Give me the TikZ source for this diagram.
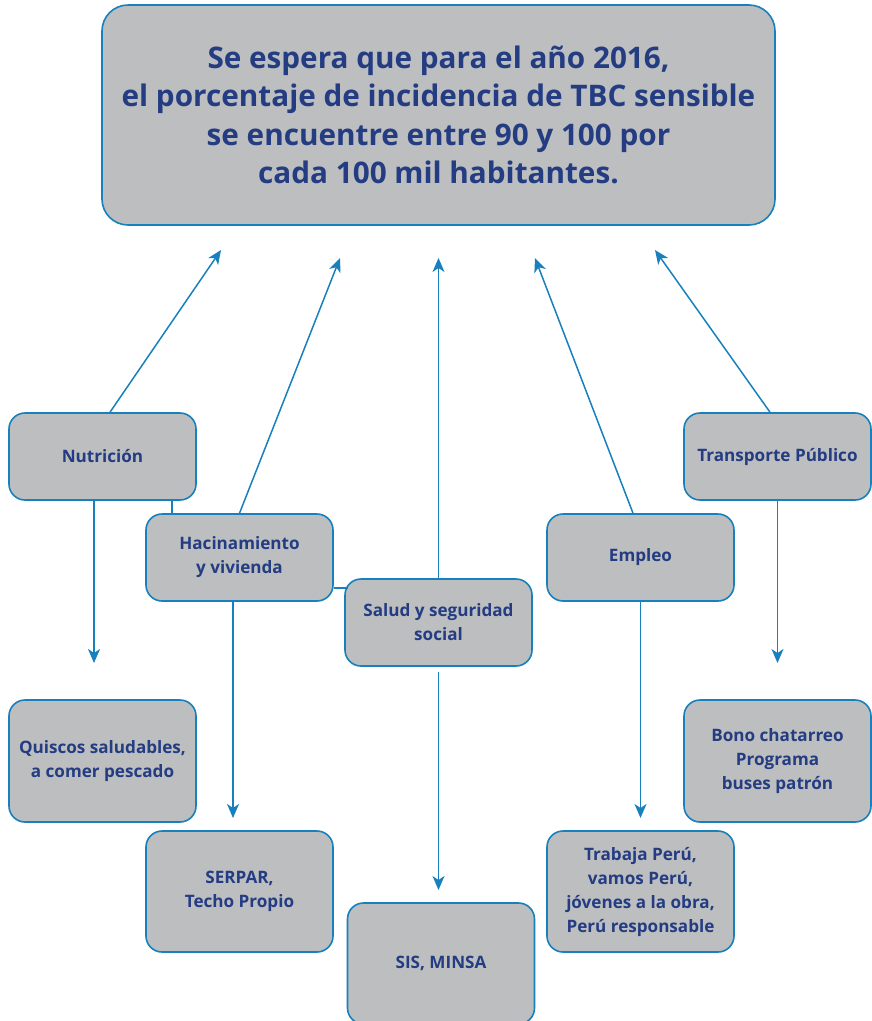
\documentclass[tikz,border=0pt]{standalone}
\usepackage{fontspec}
\setmainfont{Open Sans}
\usetikzlibrary{arrows.meta,calc}
\definecolor{boxfill}{RGB}{189,190,192}
\definecolor{boxline}{RGB}{24,128,188}
\definecolor{txt}{RGB}{35,60,130}
\begin{document}
\begin{tikzpicture}[x=1pt,y=-1pt,
 box/.style={draw=boxline,fill=boxfill,line width=1.6pt,rounded corners=16pt,minimum width=187pt,minimum height=87pt,inner sep=0pt,align=center,text=txt,font=\bfseries\fontsize{17.1}{24}\selectfont},
 arr/.style={draw=boxline,line width=1.5pt,-{Stealth[length=14pt,width=12pt,inset=4pt]}},
 link/.style={draw=boxline,line width=1.5pt}]
\useasboundingbox (0,0) rectangle (871,1021);
\node[box,minimum width=673pt,minimum height=220pt,rounded corners=26pt,font=\bfseries\fontsize{29.7}{38.3}\selectfont] (goal) at (438.5,115) {Se espera que para el año 2016,\\el porcentaje de incidencia de TBC sensible\\se encuentre entre 90 y 100 por\\cada 100 mil habitantes.};
% causes
\node[box] (nut) at (102.5,456.5) {Nutrición};
\node[box] (hac) at (239.5,557.5) {Hacinamiento\\y vivienda};
\node[box] (sal) at (438.5,622.5) {Salud y seguridad\\social};
\node[box] (emp) at (640.5,557.5) {Empleo};
\node[box] (tra) at (777.5,456.5) {Transporte Público};
% programmes
\node[box,minimum height=122pt] (qui) at (102.5,761) {Quiscos saludables,\\a comer pescado};
\node[box,minimum height=121pt] (ser) at (239.5,891.5) {SERPAR,\\Techo Propio};
\node[box,minimum height=121pt] (sis) at (441,963.5) {SIS, MINSA};
\node[box,minimum height=121pt] (trab) at (640.5,891.5) {Trabaja Perú,\\vamos Perú,\\jóvenes a la obra,\\Perú responsable};
\node[box,minimum height=122pt] (bono) at (777.5,761) {Bono chatarreo\\Programa\\buses patrón};
% arrow end points
\coordinate (u1) at (221,250);
\coordinate (u2) at (340,258);
\coordinate (u3) at (438.5,258);
\coordinate (u4) at (535,258);
\coordinate (u5) at (655,250);
\coordinate (d1) at (94,663);
\coordinate (d2) at (233,818);
\coordinate (d3) at (438.5,890);
\coordinate (d4) at (640.5,818);
\coordinate (d5) at (777.5,663);
% up arrows
\draw[arr] ([xshift=7.5pt]nut.north) -- (u1);
\draw[arr] (hac.north) -- (u2);
\draw[arr] (sal.north) -- (u3);
\draw[arr] ([xshift=-7.5pt]emp.north) -- (u4);
\draw[arr] ([xshift=-7.5pt]tra.north) -- (u5);
% down arrows
\draw[arr] ([xshift=-8.5pt]nut.south) -- (d1);
\draw[arr] ([xshift=-6.5pt]hac.south) -- (d2);
\draw[arr,shorten <=5pt] (sal.south) -- (d3);
\draw[arr] (emp.south) -- (d4);
\draw[arr] (tra.south) -- (d5);
% small links
\draw[link] ([xshift=69.5pt]nut.south) -- ([xshift=-67.5pt]hac.north);
\draw[link] ($(hac.east)+(0,30.5)$) -- ($(hac.east)+(14,30.5)$);
\end{tikzpicture}
\end{document}
